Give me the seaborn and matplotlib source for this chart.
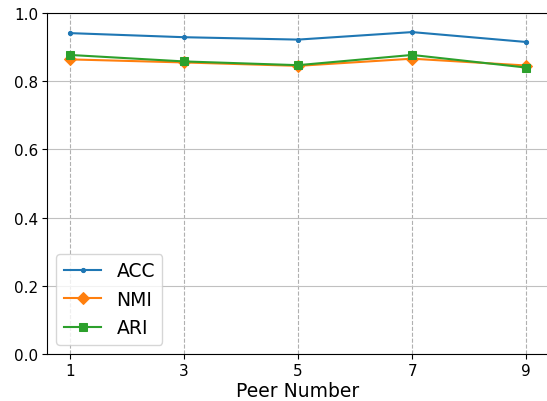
import numpy as np
import pandas as pd
import matplotlib
matplotlib.use("Agg")
import matplotlib.pyplot as plt
import seaborn as sns

peers = [1, 3, 5, 7, 9]
acc = [0.941, 0.929, 0.922, 0.944, 0.915]
nmi = [0.864, 0.855, 0.845, 0.866, 0.846]
ari = [0.877, 0.858, 0.847, 0.877, 0.840]

df = pd.DataFrame({"Peer Number": peers * 3,
                   "value": acc + nmi + ari,
                   "metric": ["ACC"] * 5 + ["NMI"] * 5 + ["ARI"] * 5})

fig = plt.figure(figsize=(5.47, 4.02), dpi=100)
ax = fig.add_axes([47 / 547, 1 - 355 / 402, 502 / 547, 341 / 402])

palette = {"ACC": "#1f77b4", "NMI": "#ff7f0e", "ARI": "#2ca02c"}
markers = {"ACC": ".", "NMI": "D", "ARI": "s"}
for m in ["ACC", "NMI", "ARI"]:
    sub = df[df["metric"] == m]
    sns.lineplot(data=sub, x="Peer Number", y="value", ax=ax, color=palette[m],
                 marker=markers[m], markersize=6, markeredgecolor=palette[m],
                 label=m, linewidth=1.5)

ax.set_ylim(0, 1.0)
ax.set_xticks(peers)
ax.set_yticks([0.0, 0.2, 0.4, 0.6, 0.8, 1.0])
ax.set_xlim(0.6, 9.4)
ax.grid(axis="y", color="#c0c0c0", linestyle="-", linewidth=0.8)
ax.grid(axis="x", color="#b0b0b0", linestyle="--", linewidth=0.8)
ax.tick_params(labelsize=11, pad=3)
ax.set_xlabel("Peer Number", fontsize=13.5, labelpad=2)
ax.set_ylabel("")
ax.legend(loc="lower left", fontsize=13.5)

fig.savefig("out.png", dpi=100)
